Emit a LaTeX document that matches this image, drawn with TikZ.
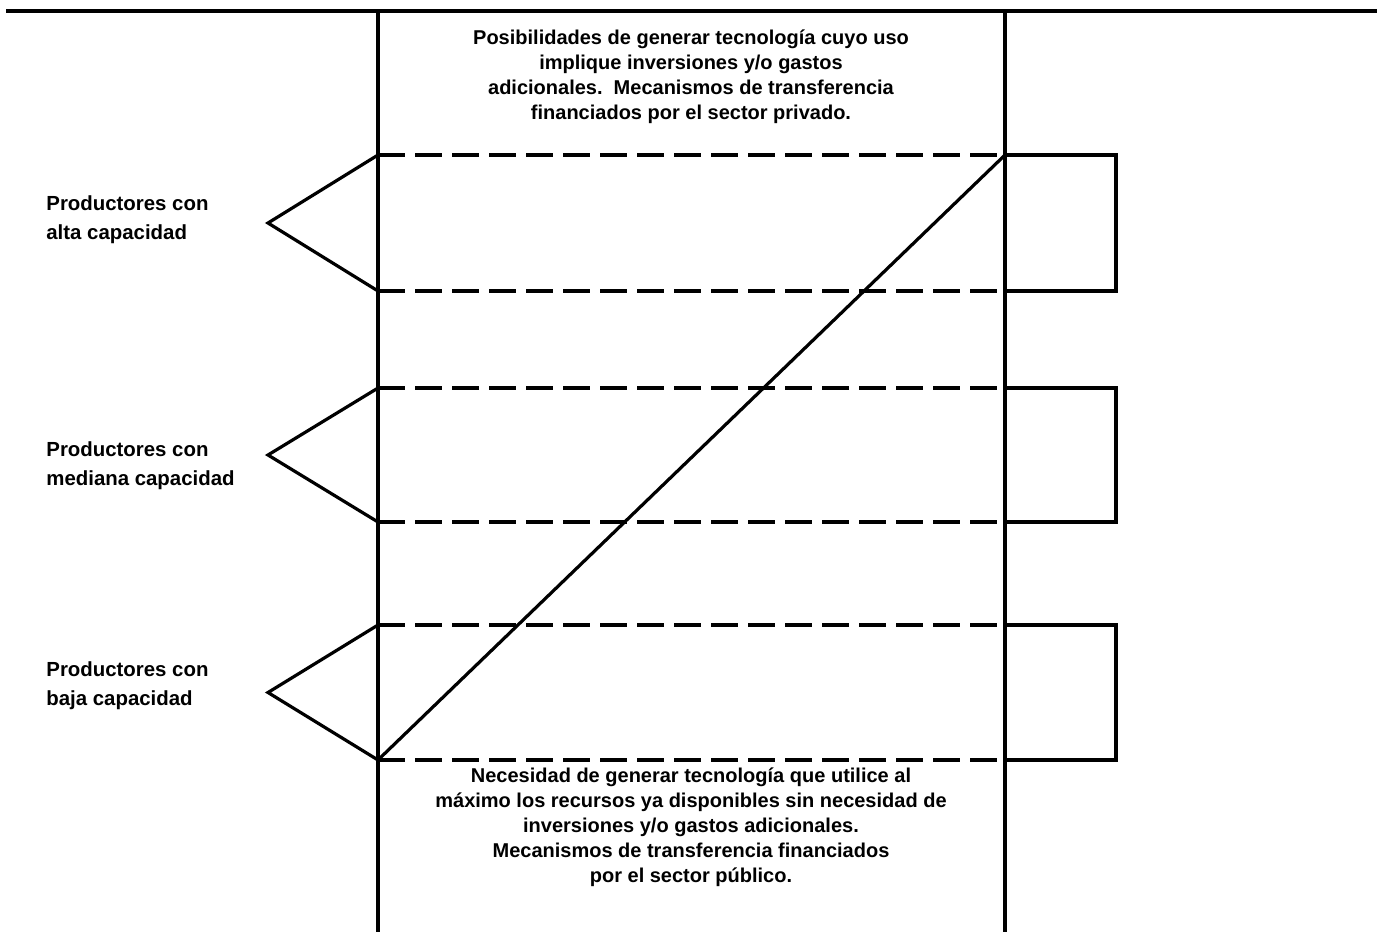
\documentclass[tikz,border=0pt]{standalone}
\usepackage{fontspec}
\setmainfont{Liberation Sans}
\begin{document}
\begin{tikzpicture}[x=0.5pt,y=-0.5pt,
  ln/.style={line width=1.6pt,line join=miter},
  dl/.style={line width=1.7pt,dash pattern=on 13.5pt off 5pt},
  lbl/.style={font=\bfseries\fontsize{10.2}{14.5}\selectfont,align=left,anchor=west,inner sep=0pt},
  txt/.style={font=\bfseries\fontsize{10}{12.5}\selectfont,align=center,inner sep=0pt}]
\useasboundingbox (0,0) rectangle (1377,932);
% frame
\coordinate (TL) at (6,11);
\coordinate (TR) at (1377,11);
\coordinate (LT) at (378,11);
\coordinate (LB) at (378,932);
\coordinate (RT) at (1005,11);
\coordinate (RB) at (1005,932);
\draw[ln] (TL) -- (TR);
\draw[ln] (LT) -- (LB);
\draw[ln] (RT) -- (RB);
% band coordinates
\foreach \n/\a/\b in {1/155/291, 2/388/522, 3/625/760}{
  \coordinate (a\n) at (378,\a);
  \coordinate (b\n) at (378,\b);
  \coordinate (c\n) at (1005,\a);
  \coordinate (d\n) at (1005,\b);
  \coordinate (e\n) at (1116,\a);
  \coordinate (f\n) at (1116,\b);
  \coordinate (p\n) at (268,{(\a+\b)/2});
  \draw[dl] (a\n) -- (c\n);
  \draw[dl] (b\n) -- (d\n);
  \draw[ln] (c\n) -- (e\n) -- (f\n) -- (d\n);
  \draw[ln] (a\n) -- (p\n) -- (b\n);
}
% diagonal
\draw[ln] (b3) -- (c1);
% labels
\node[lbl] (l1) at (46,220) {Productores con\\alta capacidad};
\node[lbl] (l2) at (46,466) {Productores con\\mediana capacidad};
\node[lbl] (l3) at (46,686) {Productores con\\baja capacidad};
\node[txt] (top) at (691,77) {Posibilidades de generar tecnología cuyo uso\\implique inversiones y/o gastos\\adicionales.\ \ Mecanismos de transferencia\\financiados por el sector privado.};
\node[txt] (bot) at (691,827) {Necesidad de generar tecnología que utilice al\\máximo los recursos ya disponibles sin necesidad de\\inversiones y/o gastos adicionales.\\Mecanismos de transferencia financiados\\por el sector público.};
\end{tikzpicture}
\end{document}
